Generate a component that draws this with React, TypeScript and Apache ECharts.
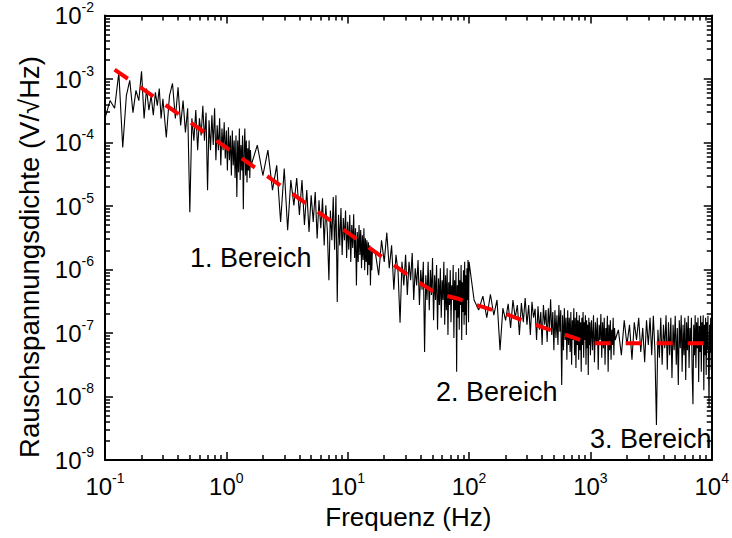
import React, { useEffect, useRef } from "react";
import * as echarts from "echarts";

// ---------- axis ticks ----------
const xMajorTicks = [0.1, 1, 10, 100, 1000, 10000];
const xMinorTicks = [
  0.2, 0.3, 0.4, 0.5, 0.6, 0.7, 0.8, 0.9,
  2, 3, 4, 5, 6, 7, 8, 9,
  20, 30, 40, 50, 60, 70, 80, 90,
  200, 300, 400, 500, 600, 700, 800, 900,
  2000, 3000, 4000, 5000, 6000, 7000, 8000, 9000,
];
const yMajorTicks = [1e-9, 1e-8, 1e-7, 1e-6, 1e-5, 1e-4, 1e-3, 1e-2];
const yMinorTicks = [
  2e-9, 3e-9, 4e-9, 5e-9, 6e-9, 7e-9, 8e-9, 9e-9,
  2e-8, 3e-8, 4e-8, 5e-8, 6e-8, 7e-8, 8e-8, 9e-8,
  2e-7, 3e-7, 4e-7, 5e-7, 6e-7, 7e-7, 8e-7, 9e-7,
  2e-6, 3e-6, 4e-6, 5e-6, 6e-6, 7e-6, 8e-6, 9e-6,
  2e-5, 3e-5, 4e-5, 5e-5, 6e-5, 7e-5, 8e-5, 9e-5,
  2e-4, 3e-4, 4e-4, 5e-4, 6e-4, 7e-4, 8e-4, 9e-4,
  2e-3, 3e-3, 4e-3, 5e-3, 6e-3, 7e-3, 8e-3, 9e-3,
];

// ---------- measured noise spectrum (frequency in Hz, log10 of density in V/sqrt(Hz)) ----------
const range1Freq = [
  0.10, 0.11, 0.12, 0.13, 0.14, 0.15, 0.16, 0.17, 0.18, 0.19, 0.20, 0.21, 0.22, 0.23, 0.24, 0.25, 0.26, 0.27, 0.28, 0.29, 0.30,
  0.32, 0.34, 0.36, 0.38, 0.40, 0.42, 0.44, 0.46, 0.48, 0.50,
  0.52, 0.54, 0.56, 0.58, 0.60, 0.62, 0.64, 0.66, 0.68, 0.70,
  0.72, 0.74, 0.76, 0.78, 0.80, 0.82, 0.84, 0.86, 0.88, 0.90,
  0.92, 0.94, 0.96, 0.98, 1.00, 1.02, 1.04, 1.06, 1.08, 1.10,
  1.12, 1.14, 1.16, 1.18, 1.20, 1.22, 1.24, 1.26, 1.28, 1.30,
  1.32, 1.34, 1.36, 1.38, 1.40, 1.42, 1.44, 1.46, 1.48, 1.50,
  1.52, 1.54, 1.56, 1.58, 1.60,
];
const range1Log = [
  -3.62, -3.34, -3.46, -2.90, -4.08, -3.26, -3.02, -3.53, -3.18, -3.34, -2.88, -3.62, -3.15, -3.49, -3.26, -3.57, -3.21, -3.42, -3.15, -3.62, -3.31,
  -3.92, -3.26, -3.07, -3.62, -3.13, -3.73, -3.34, -3.84, -3.46, -5.10,
  -3.62, -3.97, -3.49, -4.12, -3.62, -3.89, -3.42, -3.97, -3.53, -4.75,
  -3.65, -4.12, -3.57, -4.04, -3.46, -4.28, -3.73, -4.12, -3.62, -4.36,
  -3.78, -4.12, -3.68, -4.25, -3.81, -4.44, -3.76, -4.28, -3.89, -4.52,
  -3.81, -4.36, -3.97, -4.56, -3.89, -4.86, -3.97, -4.47, -3.78, -4.59,
  -4.04, -4.44, -3.89, -5.05, -4.12, -3.78, -4.52, -3.97, -4.63, -4.09,
  -4.44, -3.97, -4.56, -4.12, -4.36,
];

const range2Freq = [
  1.8, 2.0, 2.2, 2.4, 2.6, 2.8, 3.0, 3.2, 3.4, 3.6,
  3.8, 4.0, 4.2, 4.4, 4.6, 4.8, 5.0, 5.2, 5.4, 5.6,
  5.8, 6.0, 6.2, 6.4, 6.6, 6.8, 7.0, 7.2, 7.4, 7.6,
  7.8, 8.0, 8.2, 8.4, 8.6, 8.8, 9.0, 9.2, 9.4, 9.6,
  9.8, 10.0, 10.2, 10.4, 10.6, 10.8, 11.0, 11.2, 11.4, 11.6,
  11.8, 12.0, 12.2, 12.4, 12.6, 12.8, 13.0, 13.2, 13.4, 13.6,
  13.8, 14.0, 14.2, 14.4, 14.6, 14.8, 15.0, 15.2, 15.4, 15.6,
  15.8, 16.0,
];
const range2Log = [
  -4.04, -4.52, -4.12, -4.75, -4.36, -5.25, -4.41, -5.38, -4.59, -4.99,
  -4.56, -5.14, -4.59, -5.30, -4.75, -5.41, -4.83, -5.25, -4.78, -5.51,
  -4.91, -5.35, -4.88, -5.62, -4.99, -5.41, -6.17, -5.07, -5.54, -4.86,
  -5.69, -4.83, -6.51, -5.14, -5.62, -5.03, -5.77, -5.19, -5.54, -5.07,
  -5.82, -5.25, -5.69, -5.14, -5.88, -5.30, -5.66, -5.13, -5.82, -5.35,
  -6.25, -5.41, -5.88, -5.30, -5.77, -5.38, -5.98, -5.46, -5.85, -5.35,
  -6.01, -5.51, -5.88, -5.54, -6.09, -5.57, -5.93, -5.62, -6.25, -5.69,
  -6.01, -5.66,
];

const range3Freq = [
  17, 18, 19, 20, 21, 22, 23, 24, 25, 26,
  27, 28, 29, 30, 31, 32, 33, 34, 35, 36,
  37, 38, 39, 40, 41, 42, 43, 44, 45, 46,
  47, 48, 49, 50, 51, 52, 53, 54, 55, 56,
  57, 58, 59, 60, 61, 62, 63, 64, 65, 66,
  67, 68, 69, 70, 71, 72, 73, 74, 75, 76,
  77, 78, 79, 80, 81, 82, 83, 84, 85, 86,
  87, 88, 89, 90, 91, 92, 93, 94, 95, 96,
  97, 98, 99, 100,
];
const range3Log = [
  -5.77, -6.09, -5.54, -5.88, -5.42, -5.98, -5.62, -6.32, -5.77, -6.04,
  -6.84, -5.88, -6.25, -5.77, -6.40, -5.88, -6.17, -5.74, -6.48, -5.98,
  -6.25, -5.85, -6.56, -6.01, -6.32, -5.88, -7.30, -6.09, -6.48, -5.88,
  -6.64, -6.01, -6.40, -5.82, -6.80, -6.09, -6.48, -5.93, -6.95, -6.14,
  -6.56, -5.98, -6.76, -6.17, -6.48, -5.88, -6.87, -6.09, -6.64, -5.98,
  -7.03, -6.20, -6.56, -6.01, -6.83, -6.25, -6.48, -5.93, -7.08, -6.17,
  -6.64, -6.04, -7.61, -6.25, -6.76, -5.98, -6.95, -6.17, -6.56, -5.93,
  -7.11, -6.20, -6.67, -6.01, -6.87, -5.88, -6.72, -6.09, -7.03, -5.98,
  -6.48, -5.85, -6.83, -5.88,
];

const range4Freq = [
  110, 120, 130, 140, 150, 160, 170, 180, 190, 200,
  210, 220, 230, 240, 250, 260, 270, 280, 290, 300,
  310, 320, 330, 340, 350, 360, 370, 380, 390, 400,
  410, 420, 430, 440, 450, 460, 470, 480, 490, 500,
  510, 520, 530, 540, 550, 560, 570, 580, 590, 600,
  610, 620, 630, 640, 650, 660, 670, 680, 690, 700,
  710, 720, 730, 740, 750, 760, 770, 780, 790, 800,
  810, 820, 830, 840, 850, 860, 870, 880, 890, 900,
  910, 920, 930, 940, 950, 960, 970, 980, 990, 1000,
  1020, 1040, 1060, 1080, 1100, 1120, 1140, 1160, 1180, 1200,
  1220, 1240, 1260, 1280, 1300, 1320, 1340, 1360, 1380, 1400,
  1420, 1440, 1460, 1480, 1500, 1520, 1540, 1560, 1580, 1600,
];
const range4Log = [
  -6.48, -6.64, -6.42, -6.76, -6.39, -6.72, -6.48, -7.27, -6.61, -6.80,
  -6.54, -6.92, -6.48, -6.76, -6.56, -7.03, -6.53, -6.83, -6.45, -6.87,
  -6.56, -7.03, -6.51, -6.76, -6.62, -7.11, -6.58, -6.95, -6.67, -7.19,
  -6.56, -6.87, -6.64, -7.14, -6.61, -6.95, -6.47, -7.03, -6.67, -7.27,
  -6.64, -7.08, -6.72, -7.19, -6.56, -6.98, -6.64, -7.82, -6.72, -7.27,
  -6.61, -7.11, -6.76, -7.42, -6.64, -7.19, -6.76, -7.30, -6.67, -7.50,
  -6.80, -7.11, -6.61, -7.35, -6.76, -7.55, -6.67, -7.19, -6.80, -7.42,
  -6.72, -7.27, -6.83, -7.61, -6.76, -7.19, -6.67, -7.39, -6.83, -7.11,
  -6.72, -7.50, -6.80, -7.24, -6.87, -7.66, -6.76, -7.19, -6.83, -7.35,
  -6.80, -7.27, -6.72, -7.46, -6.83, -7.19, -6.76, -7.58, -6.87, -7.11,
  -6.70, -7.39, -6.83, -7.24, -6.76, -7.50, -6.92, -7.14, -6.73, -7.61,
  -6.87, -7.27, -6.80, -7.42, -6.95, -7.19, -6.76, -7.35, -6.92, -7.11,
];

const range5Freq = [
  1700, 1800, 1900, 2000, 2100, 2200, 2300, 2400, 2500, 2600,
  2700, 2800, 2900, 3000, 3100, 3200, 3300, 3400, 3500, 3600,
  3700, 3800, 3900, 4000, 4100, 4200, 4300, 4400, 4500, 4600,
  4700, 4800, 4900, 5000, 5100, 5200, 5300, 5400, 5500, 5600,
  5700, 5800, 5900, 6000, 6100, 6200, 6300, 6400, 6500, 6600,
  6700, 6800, 6900, 7000, 7100, 7200, 7300, 7400, 7500, 7600,
  7700, 7800, 7900, 8000, 8100, 8200, 8300, 8400, 8500, 8600,
  8700, 8800, 8900, 9000, 9100, 9200, 9300, 9400, 9500, 9600,
  9700, 9800, 9900, 10000,
];
const range5Log = [
  -6.95, -7.35, -6.80, -7.19, -6.87, -7.42, -6.83, -7.11, -6.76, -7.30,
  -6.92, -7.46, -6.80, -7.19, -6.76, -7.35, -6.73, -7.27, -8.45, -6.95,
  -7.39, -6.76, -7.50, -6.87, -7.24, -6.72, -7.58, -6.83, -7.35, -6.76,
  -7.71, -6.87, -7.27, -6.73, -7.50, -6.92, -7.82, -6.80, -7.24, -6.72,
  -7.61, -6.87, -7.35, -6.76, -7.74, -6.83, -7.27, -6.73, -7.55, -6.92,
  -7.19, -6.76, -7.66, -8.12, -6.87, -7.35, -6.72, -7.55, -6.83, -7.24,
  -6.76, -7.77, -6.89, -7.30, -6.73, -7.61, -6.83, -7.19, -6.72, -7.90,
  -6.87, -7.35, -6.76, -7.66, -6.83, -7.27, -6.73, -7.50, -8.18, -6.87,
  -7.30, -6.76, -7.58, -6.95,
];

// ---------- fit curve (red dashed) ----------
const fitFreq = [0.12, 0.2, 0.5, 1, 2, 5, 10, 20, 30, 40, 50, 60, 80, 100, 200, 300, 500, 700, 1000, 10000];
const fitDensity = [
  1.4e-3, 7.2e-4, 2.1e-4, 8.3e-5, 3.3e-5, 9.6e-6, 3.8e-6, 1.5e-6, 8.7e-7, 6.0e-7,
  4.6e-7, 4.0e-7, 3.5e-7, 3.0e-7, 2.0e-7, 1.5e-7, 1.07e-7, 8.7e-8, 6.9e-8, 6.9e-8,
];

const annotations = ["1. Bereich", "2. Bereich", "3. Bereich"];
const xAxisTitle = "Frequenz (Hz)";
const yAxisTitle = "Rauschspannungsdichte (V/\u221AHz)";

const FONT = '"Liberation Sans", Arial, Helvetica, sans-serif';

const noiseFreq = [...range1Freq, ...range2Freq, ...range3Freq, ...range4Freq, ...range5Freq];
const noiseLog = [...range1Log, ...range2Log, ...range3Log, ...range4Log, ...range5Log];

const powLabel = (v: number) => `{b|10}{s|${Math.round(Math.log10(v))}}`;
const labelRich = {
  b: { fontSize: 24, fontFamily: FONT, color: "#000" },
  s: { fontSize: 14, fontFamily: FONT, color: "#000", padding: [0, 0, 17, 0] },
};

function tickAxis(range: any, position: string, values: number[], length: number, showLine: boolean, extra: any = {}) {
  return {
    type: "log",
    logBase: 10,
    ...range,
    position,
    axisLine: { show: showLine, onZero: false, lineStyle: { color: "#000", width: 2 } },
    axisTick: { show: true, inside: true, length, customValues: values, lineStyle: { color: "#000", width: 1.5 } },
    axisLabel: { show: false },
    splitLine: { show: false },
    minorTick: { show: false },
    ...extra,
  };
}

export default function App() {
  const ref = useRef<HTMLDivElement>(null);
  useEffect(() => {
    document.body.style.margin = "0";
    if (!ref.current) return;
    const chart = echarts.init(ref.current, undefined, { renderer: "svg" });
    const xr = { min: 0.1, max: 10000 };
    const yr = { min: 1e-9, max: 1e-2 };
    const noiseData = noiseFreq.map((f, i) => [f, Math.pow(10, noiseLog[i])]);
    const fitData = fitFreq.map((f, i) => [f, fitDensity[i]]);
    const textStyle = (size: number) => ({ fill: "#000", font: `${size}px ${FONT}` });
    chart.setOption({
      animation: false,
      backgroundColor: "#fff",
      grid: { left: 105, top: 15, right: 19, bottom: 78, containLabel: false },
      xAxis: [
        tickAxis(xr, "bottom", xMajorTicks, 8, true, {
          axisLabel: {
            show: true,
            customValues: xMajorTicks,
            margin: 11,
            formatter: powLabel,
            rich: labelRich,
          },
          name: xAxisTitle,
          nameLocation: "middle",
          nameGap: 44,
          nameTextStyle: { fontSize: 26, fontFamily: FONT, color: "#000" },
        }),
        tickAxis(xr, "bottom", xMinorTicks, 5, false),
        tickAxis(xr, "top", xMajorTicks, 8, true),
        tickAxis(xr, "top", xMinorTicks, 5, false),
      ],
      yAxis: [
        tickAxis(yr, "left", yMajorTicks, 8, true, {
          axisLabel: {
            show: true,
            customValues: yMajorTicks,
            margin: 11,
            formatter: powLabel,
            rich: labelRich,
          },
        }),
        tickAxis(yr, "left", yMinorTicks, 5, false),
        tickAxis(yr, "right", yMajorTicks, 8, true),
        tickAxis(yr, "right", yMinorTicks, 5, false),
      ],
      series: [
        {
          type: "line",
          name: "Rauschspektrum",
          xAxisIndex: 0,
          yAxisIndex: 0,
          data: noiseData,
          symbol: "none",
          showSymbol: false,
          lineStyle: { color: "#000", width: 1.1 },
          silent: true,
          z: 2,
        },
        {
          type: "line",
          name: "Fit",
          xAxisIndex: 0,
          yAxisIndex: 0,
          data: fitData,
          symbol: "none",
          showSymbol: false,
          lineStyle: { color: "#ff0000", width: 4, type: [16, 15] },
          silent: true,
          z: 3,
        },
      ],
      graphic: [
        {
          type: "text",
          x: 29,
          y: 257,
          rotation: Math.PI / 2,
          style: { text: yAxisTitle, ...textStyle(27.5), align: "center", verticalAlign: "middle" },
        },
        { type: "text", x: 190, y: 258, style: { text: annotations[0], ...textStyle(27), align: "left", verticalAlign: "middle" } },
        { type: "text", x: 436, y: 392, style: { text: annotations[1], ...textStyle(27), align: "left", verticalAlign: "middle" } },
        { type: "text", x: 590, y: 439, style: { text: annotations[2], ...textStyle(27), align: "left", verticalAlign: "middle" } },
      ],
    });
    return () => chart.dispose();
  }, []);
  return <div ref={ref} style={{ width: 732, height: 538 }} />;
}
